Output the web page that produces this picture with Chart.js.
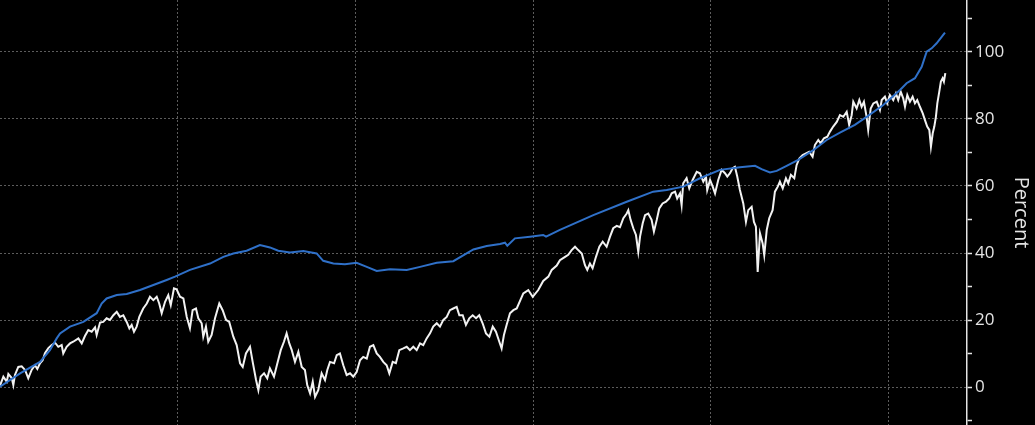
<!DOCTYPE html>
<html><head><meta charset="utf-8">
<script src="https://cdn.jsdelivr.net/npm/chart.js@4.4.1/dist/chart.umd.min.js"></script>
<style>html,body{margin:0;padding:0;background:#000;overflow:hidden}#wrap{width:1035px;height:425px;}</style>
</head><body><div id="wrap"><canvas id="c" width="1035" height="425"></canvas></div>
<script>
// x positions are in grid-period units (one vertical grid line per period)
const tWhite=[0,0.019,0.038,0.047,0.066,0.075,0.084,0.103,0.122,0.141,0.159,0.178,0.197,0.210,0.225,0.240,0.253,0.272,0.291,0.310,0.328,0.347,0.356,0.375,0.394,0.412,0.441,0.460,0.478,0.497,0.516,0.535,0.544,0.563,0.581,0.600,0.619,0.638,0.657,0.675,0.694,0.713,0.728,0.741,0.754,0.769,0.784,0.806,0.826,0.844,0.863,0.882,0.896,0.910,0.929,0.947,0.961,0.979,0.994,1.013,1.032,1.051,1.069,1.084,1.103,1.116,1.135,1.144,1.159,1.172,1.191,1.210,1.234,1.253,1.272,1.290,1.313,1.332,1.351,1.366,1.384,1.407,1.422,1.441,1.454,1.467,1.486,1.504,1.519,1.542,1.561,1.580,1.598,1.613,1.628,1.642,1.660,1.679,1.698,1.716,1.729,1.745,1.760,1.773,1.791,1.810,1.829,1.842,1.857,1.880,1.895,1.913,1.932,1.951,1.970,1.988,2.007,2.026,2.044,2.064,2.082,2.101,2.120,2.138,2.157,2.176,2.191,2.210,2.228,2.247,2.270,2.289,2.307,2.326,2.345,2.364,2.382,2.401,2.420,2.438,2.458,2.476,2.495,2.514,2.532,2.551,2.570,2.585,2.604,2.622,2.641,2.660,2.679,2.697,2.716,2.735,2.754,2.773,2.791,2.810,2.823,2.836,2.851,2.870,2.889,2.908,2.945,2.973,2.998,3.029,3.057,3.086,3.105,3.133,3.151,3.180,3.198,3.217,3.236,3.254,3.274,3.292,3.305,3.320,3.335,3.354,3.373,3.392,3.414,3.433,3.451,3.471,3.489,3.508,3.527,3.536,3.549,3.564,3.579,3.592,3.602,3.617,3.630,3.648,3.667,3.680,3.696,3.710,3.729,3.748,3.766,3.780,3.799,3.811,3.827,3.836,3.845,3.864,3.879,3.898,3.921,3.939,3.958,3.973,3.980,3.996,4.011,4.024,4.042,4.061,4.080,4.093,4.108,4.123,4.136,4.149,4.164,4.183,4.198,4.211,4.230,4.243,4.254,4.264,4.277,4.292,4.301,4.315,4.329,4.348,4.361,4.377,4.389,4.405,4.423,4.436,4.451,4.470,4.483,4.498,4.517,4.536,4.554,4.573,4.586,4.605,4.618,4.637,4.656,4.671,4.689,4.709,4.727,4.746,4.765,4.779,4.793,4.802,4.821,4.836,4.849,4.862,4.877,4.886,4.900,4.915,4.934,4.952,4.962,4.980,4.993,5.008,5.027,5.042,5.055,5.069,5.083,5.093,5.106,5.121,5.136,5.149,5.162,5.177,5.193,5.205,5.218,5.230,5.239,5.249,5.258,5.267,5.275,5.286,5.295,5.305,5.312,5.320];
const white=[0.5,3.2,1.7,4.0,2.8,0.7,3.7,6.1,6.3,5.2,2.7,5.2,6.6,5.5,7.2,8.1,10.2,11.7,12.6,13.3,12.1,12.6,10.1,12.1,13.1,13.6,14.6,13.1,15.3,17.1,16.6,17.9,15.6,19.3,19.5,20.6,20.1,21.5,22.5,21.0,21.5,19.5,17.6,18.6,16.6,18.1,21.0,23.5,25.0,27.0,26.0,27.0,25.0,22.1,25.5,27.5,24.5,29.5,29.2,27.0,26.5,21.0,17.6,23.0,23.5,20.6,19.1,15.1,18.1,13.6,15.6,20.6,25.0,23.0,20.1,19.5,15.1,12.6,7.2,6.1,10.1,12.1,7.6,2.2,-0.8,3.2,4.2,2.7,5.7,3.2,7.2,11.1,13.6,16.1,13.1,11.1,7.6,10.6,6.1,5.2,0.7,-1.8,1.7,-2.8,-0.8,4.2,2.2,5.2,7.6,7.2,9.6,10.1,6.6,3.7,4.2,3.2,4.6,8.1,9.1,8.6,12.1,12.6,10.1,9.1,7.6,6.6,4.2,7.6,7.2,11.1,11.6,12.1,11.1,12.1,11.1,13.1,12.6,14.6,16.1,18.1,19.1,18.1,20.1,21.0,23.0,23.5,24.0,21.5,21.5,18.6,20.6,21.5,20.6,21.5,19.1,16.1,15.1,18.1,16.6,13.6,11.6,15.6,18.6,22.1,23.0,23.5,28.0,29.0,27.0,29.0,31.7,33.0,35.0,36.3,37.9,38.9,39.5,40.9,41.9,40.9,39.9,36.4,35.0,36.9,35.5,38.9,41.9,43.4,41.9,44.9,47.4,48.1,47.7,50.4,51.8,52.8,49.9,47.4,45.4,40.4,44.9,48.9,51.3,51.8,49.9,46.4,49.9,53.3,54.8,55.3,56.3,57.8,58.3,56.3,57.8,54.3,60.8,62.3,59.3,61.8,64.2,63.8,61.3,62.8,58.8,61.8,59.8,57.8,61.8,64.8,63.8,62.8,63.8,65.3,65.7,62.8,58.8,54.8,49.3,52.8,53.8,49.3,47.9,34.4,45.9,42.9,39.4,46.9,50.4,52.8,58.3,59.8,61.3,59.3,62.3,60.8,63.3,62.3,66.2,68.2,69.2,69.7,70.2,68.7,72.2,73.7,72.7,74.2,74.7,76.2,77.7,79.1,81.1,80.6,82.1,78.2,81.1,85.1,83.1,85.6,83.6,85.1,80.6,76.7,83.1,84.6,85.1,82.6,85.6,86.6,84.6,87.1,85.6,87.6,85.6,88.1,86.1,83.6,87.1,85.1,86.6,84.6,85.6,83.6,81.6,79.7,77.7,76.7,71.7,75.7,77.7,80.6,84.6,88.1,91.1,92.1,91.1,93.6];
const tBlue=[0,0.113,0.225,0.281,0.319,0.338,0.394,0.469,0.544,0.572,0.600,0.657,0.713,0.788,0.863,0.938,0.985,1.069,1.182,1.257,1.313,1.388,1.463,1.519,1.566,1.632,1.707,1.782,1.819,1.876,1.941,2.007,2.064,2.120,2.195,2.289,2.364,2.458,2.551,2.626,2.664,2.739,2.814,2.842,2.855,2.898,2.983,3.057,3.073,3.151,3.339,3.527,3.676,3.752,3.845,3.939,4.052,4.164,4.249,4.286,4.333,4.371,4.427,4.492,4.577,4.652,4.727,4.811,4.877,4.971,5.065,5.102,5.149,5.187,5.215,5.243,5.271,5.318];
const blue=[0.2,4.2,7.6,11.1,14.6,16.1,18.1,19.5,22.1,25.0,26.5,27.5,27.8,29.0,30.5,32.0,33.0,35.0,36.9,38.9,39.9,40.7,42.4,41.7,40.7,40.2,40.6,39.9,37.7,36.9,36.7,37.1,35.9,34.7,35.2,35.0,35.9,37.1,37.6,39.9,41.1,42.1,42.7,43.1,42.2,44.4,44.9,45.4,44.9,46.9,51.3,55.3,58.3,58.8,59.8,62.3,64.8,65.6,66.0,65.0,64.0,64.5,66.0,67.8,70.7,73.7,75.9,78.2,80.6,84.1,88.6,90.6,92.1,95.5,100.0,101.0,102.5,105.7];
const yTicks=[-10,0,10,20,30,40,50,60,70,80,90,100,110];
const yLabels=[0,20,40,60,80,100];
const xGrid=[1,2,3,4,5];
const axisTitle='Percent';

function pts(t,v){const n=Math.min(t.length,v.length);const o=[];for(let i=0;i<n;i++)o.push({x:t[i],y:v[i]});return o;}

new Chart(document.getElementById('c'),{
  type:'line',
  data:{datasets:[
    {label:'Blue',data:pts(tBlue,blue),borderColor:'#2f70c8',borderWidth:2,pointRadius:0,tension:0},
    {label:'White',data:pts(tWhite,white),borderColor:'#f2f2f2',borderWidth:2,pointRadius:0,tension:0}
  ]},
  options:{
    responsive:false,animation:false,devicePixelRatio:1,
    layout:{padding:0},
    plugins:{legend:{display:false},tooltip:{enabled:false}},
    scales:{
      x:{type:'linear',min:0,max:5.442,
        afterBuildTicks:s=>{s.ticks=xGrid.map(v=>({value:v}));},
        afterFit:s=>{s.height=0;s.paddingLeft=0;s.paddingRight=0;},
        ticks:{display:false},
        grid:{color:'#5c5c5c',lineWidth:1,drawTicks:false},
        border:{display:false,dash:[2,2]}},
      y:{position:'right',min:-11.2,max:115.4,
        afterBuildTicks:s=>{s.ticks=yTicks.map(v=>({value:v}));},
        afterFit:s=>{s.width=68;s.paddingTop=0;s.paddingBottom=0;},
        ticks:{color:'#e4e4e4',font:{family:'Open Sans',size:17},padding:3,autoSkip:false,
          callback:v=>yLabels.includes(v)?String(v):''},
        grid:{color:c=>(c.tick&&yLabels.includes(c.tick.value))?'#5c5c5c':'rgba(0,0,0,0)',
          lineWidth:1,tickColor:'#e4e4e4',tickLength:5,tickWidth:1.5},
        border:{display:true,color:'#e4e4e4',width:1.5,dash:[2,2]},
        title:{display:true,text:axisTitle,color:'#e4e4e4',font:{family:'Open Sans',size:20},padding:{top:2,bottom:0}}
      }
    }
  }
});
</script></body></html>
